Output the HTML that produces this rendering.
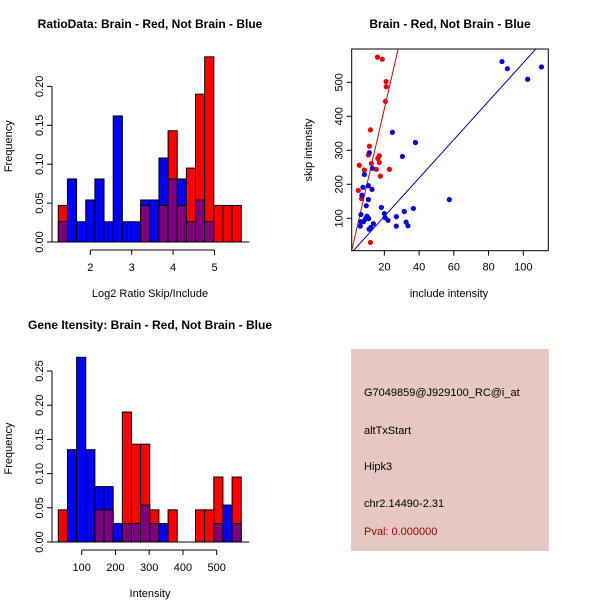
<!DOCTYPE html>
<html><head><meta charset="utf-8"><style>
html,body{margin:0;padding:0;background:#fff}
svg{display:block;font-family:"Liberation Sans",sans-serif}
</style></head><body>
<svg id="c" width="600" height="600" xmlns="http://www.w3.org/2000/svg">
<text x="150" y="28" font-size="12" font-weight="bold" text-anchor="middle">RatioData: Brain - Red, Not Brain - Blue</text>
<text x="450" y="28" font-size="12" font-weight="bold" text-anchor="middle">Brain - Red, Not Brain - Blue</text>
<text x="150" y="329" font-size="12" font-weight="bold" text-anchor="middle">Gene Itensity: Brain - Red, Not Brain - Blue</text>
<g id="h1"></g>
<g id="sc"></g>
<g id="h2"></g>
<g>
<rect x="351" y="349" width="198" height="202" fill="#e6c8c0"/>
<text x="364" y="396" font-size="11">G7049859@J929100_RC@i_at</text>
<text x="364" y="434" font-size="11">altTxStart</text>
<text x="364" y="470" font-size="11">Hipk3</text>
<text x="364" y="507" font-size="11">chr2.14490-2.31</text>
<text x="364" y="535" font-size="11" fill="#990000">Pval: 0.000000</text>
</g>
</svg>
<script>
// Ratio histogram data
const ratioRed  = [0.047,0,0,0,0,0,0,0,0,0.047,0,0.047,0.143,0.047,0.095,0.19,0.238,0.047,0.047,0.047];
const ratioBlue = [0.026,0.081,0.026,0.054,0.081,0.026,0.162,0.026,0.026,0.054,0.054,0.108,0.081,0.081,0.026,0.054,0.026,0,0,0];
const ratioXTicks = [2,3,4,5];
const ratioYTicks = ["0.00","0.05","0.10","0.15","0.20"];
// Intensity histogram data
const intRed  = [0.047,0,0,0,0.047,0.047,0,0.19,0.143,0.143,0.047,0,0.047,0,0,0.047,0.047,0.095,0,0.095];
const intBlue = [0,0.135,0.27,0.135,0.081,0.081,0.027,0.027,0.027,0.054,0.027,0.027,0,0,0,0,0,0.027,0.054,0.027];
const intXTicks = [100,200,300,400,500];
const intYTicks = ["0.00","0.05","0.10","0.15","0.20","0.25"];
// Scatter data
const redX = [16,18.8,21,21.1,20.6,12,11.4,10.8,17.1,16.2,17.1,12.5,5.6,15.4,22.9,8.5,17.7,5,6.9,12];
const redY = [574,568,502,487,444,360,312,286,284,276,264,261,256,244,244,242,224,182,158,29];
const blueX = [87.7,90.8,110.4,102.5,24.6,37.9,30.4,11.4,13.1,8.5,10.8,7.7,12.9,7.1,10.8,57.4,9.6,18.3,31.5,36.7,6.5,20,10,26.9,11,20.4,22.1,9.1,8,6.4,13.7,32.5,33.6,6.2,26.9,11.2,12.2];
const blueY = [561,540,545,509,353,323,282,293,247,229,196,191,185,168,155,155,137,132,120,129,111,114,106,105,99,102,94,98,90,90,84,89,78,77,77,68,73];
const redFit = [-22, 22.2];
const blueFit = [-7.6, 5.65];
const scXTicks = [20,40,60,80,100];
const scYTicks = [100,200,300,400,500];

const NS="http://www.w3.org/2000/svg";
function mk(parent,tag,attrs,txt){const e=document.createElementNS(NS,tag);for(const k in attrs)e.setAttribute(k,attrs[k]);if(txt!==undefined)e.textContent=txt;parent.appendChild(e);return e;}

function hist(g,red,blue,x0,bw,xs,y0,xt,yt,axisX,xlabel,xlabelY,yLabelX,yLabelOff){
  const n=red.length;
  const bx=i=>xs(x0+i*bw), ww=xs(x0+bw)-xs(x0);
  for(let i=0;i<n;i++){
    const r=red[i],b=blue[i],lo=Math.min(r,b),hi=Math.max(r,b);
    if(hi>0){
      const r1=mk(g,'rect',{x:bx(i),y:y0(hi),width:ww,height:y0(0)-y0(hi),fill:r>=b?'#ff0000':'#0000ff',stroke:'#000','stroke-width':1});
      
      
    }
    if(lo>0){
      const r2=mk(g,'rect',{x:bx(i),y:y0(lo),width:ww,height:y0(0)-y0(lo),fill:'#7f007f',stroke:'#000','stroke-width':1});
      
      
    }
  }
  mk(g,'line',{x1:axisX,x2:xs(x0+n*bw)+8,y1:y0(0),y2:y0(0),stroke:'#000'});
  const ymax=parseFloat(yt[yt.length-1]);
  mk(g,'line',{x1:axisX,x2:axisX,y1:y0(0),y2:y0(ymax),stroke:'#000'});
  yt.forEach(t=>{const v=parseFloat(t),y=y0(v);
    mk(g,'line',{x1:axisX-5,x2:axisX,y1:y,y2:y,stroke:'#000'});
    const tx=mk(g,'text',{x:0,y:0,'font-size':11,'text-anchor':'middle',transform:`translate(${axisX-9},${y}) rotate(-90)`},t);
    
    
  });
  const ay=y0(0)+8;
  mk(g,'line',{x1:xs(xt[0]),x2:xs(xt[xt.length-1]),y1:ay,y2:ay,stroke:'#000'});
  xt.forEach(t=>{const x=xs(t);
    mk(g,'line',{x1:x,x2:x,y1:ay,y2:ay+5,stroke:'#000'});
    const tx=mk(g,'text',{x:x,y:ay+21,'font-size':11,'text-anchor':'middle'},String(t));
    
    
  });
  const xl=mk(g,'text',{x:150,y:xlabelY,'font-size':11,'text-anchor':'middle'},xlabel);
  
  
  const yl=mk(g,'text',{x:0,y:0,'font-size':11,'text-anchor':'middle',transform:`translate(${yLabelX},${(y0(0)+y0(ymax))/2+yLabelOff}) rotate(-90)`},'Frequency');
  
  
}

{
  const g=document.getElementById('h1');
  const xs=v=>90.3+(v-2)*41.4;
  const y0=v=>242-v*(38.9/0.05);
  hist(g,ratioRed,ratioBlue,1.227,0.221,xs,y0,ratioXTicks,ratioYTicks,52,'Log2 Ratio Skip/Include',297,12,-18);
}
{
  const g=document.getElementById('h2');
  const xs=v=>81.7+(v-100)*(135/400);
  const y0=v=>542-v*(34.2/0.05);
  hist(g,intRed,intBlue,30.7,27.1,xs,y0,intXTicks,intYTicks,52,'Intensity',597,12,-8);
}
{
  const g=document.getElementById('sc');
  const xs=v=>349.6+v*1.7375, ys=v=>252.3-v*0.34;
  const L=351.7,R=548.3,T=49,B=250.7;
  const defs=mk(g,'defs',{});
  const cp=mk(defs,'clipPath',{id:'cp'});
  mk(cp,'rect',{x:L,y:T,width:R-L,height:B-T});
  const lg=mk(g,'g',{'clip-path':'url(#cp)'});
  [[redFit,'#dd0000','fit-line-red'],[blueFit,'#0000aa','fit-line-blue']].forEach(([f,c,n])=>{
    const l=mk(lg,'line',{x1:xs(0),y1:ys(f[0]),x2:xs(120),y2:ys(f[0]+f[1]*120),stroke:c,'stroke-width':1});
    
    
  });
  redX.forEach((x,i)=>{const p=mk(g,'circle',{cx:xs(x),cy:ys(redY[i]),r:2.6,fill:'#ee0000'});
    
    });
  blueX.forEach((x,i)=>{const p=mk(g,'circle',{cx:xs(x),cy:ys(blueY[i]),r:2.6,fill:'#0000dd'});
    
    });
  mk(g,'rect',{x:L,y:T,width:R-L,height:B-T,fill:'none',stroke:'#000'});
  scXTicks.forEach(t=>{const x=xs(t);mk(g,'line',{x1:x,x2:x,y1:B,y2:B+5,stroke:'#000'});
    const tx=mk(g,'text',{x:x,y:B+20,'font-size':11,'text-anchor':'middle'},String(t));
    
    });
  scYTicks.forEach(t=>{const y=ys(t);mk(g,'line',{x1:L-5,x2:L,y1:y,y2:y,stroke:'#000'});
    const tx=mk(g,'text',{x:0,y:0,'font-size':11,'text-anchor':'middle',transform:`translate(${L-9},${y}) rotate(-90)`},String(t));
    
    });
  const xl=mk(g,'text',{x:449,y:297,'font-size':11,'text-anchor':'middle'},'include intensity');
  
  
  const yl=mk(g,'text',{x:0,y:0,'font-size':11,'text-anchor':'middle',transform:`translate(312,150) rotate(-90)`},'skip intensity');
  
  
}
</script>
</body></html>
